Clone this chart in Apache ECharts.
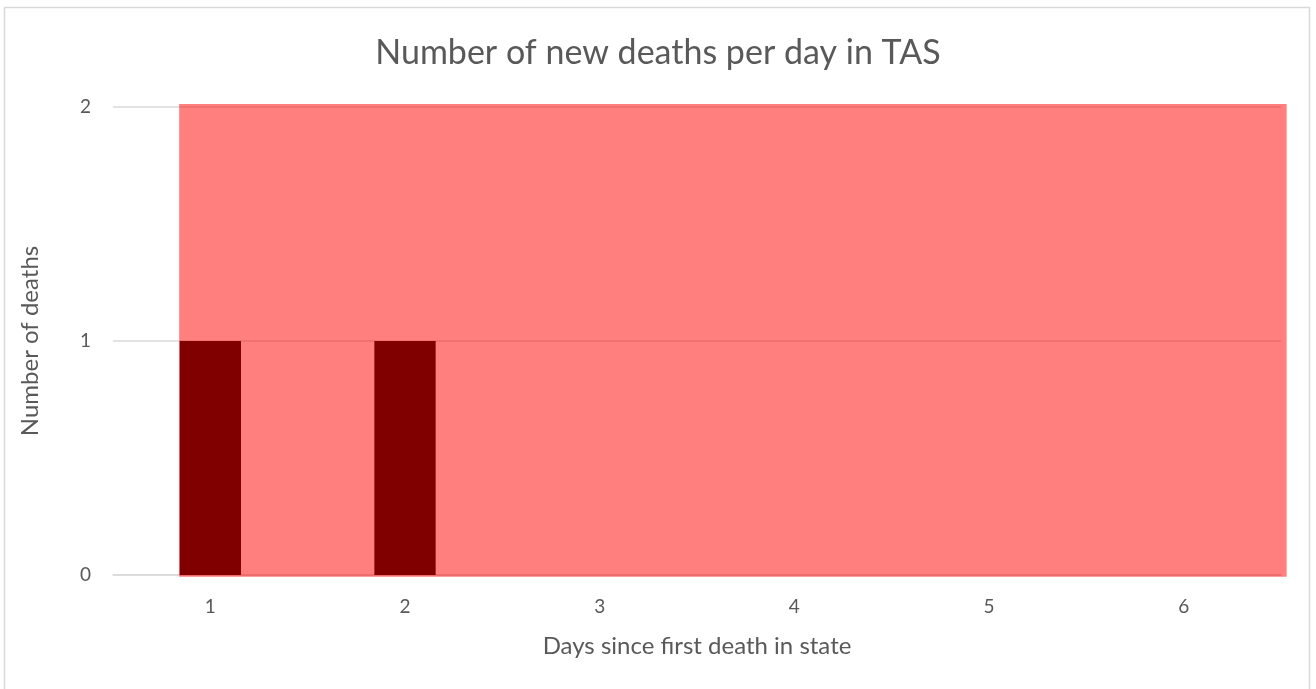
<!DOCTYPE html>
<html><head><meta charset="utf-8">
<script src="https://cdn.jsdelivr.net/npm/echarts@6/dist/echarts.min.js"></script>
<style>html,body{margin:0;padding:0;background:#fff}#c{width:1316px;height:689px}</style>
</head><body><div id="c"></div>
<script>
const categories = ['1','2','3','4','5','6'];
const newDeaths = [1, 1, 0, 0, 0, 0];
// shaded band, in category-index units (x) and deaths (y)
const bandX = [-0.16, 5.529];
const bandValue = [2.013, 2.013];
const yTicks = [0, 1, 2];

// plot geometry
const W = 1316, H = 689, L = 113, R = 35, T = 107, B = 114;
const catW = (W - L - R) / categories.length;
const unitH = (H - T - B) / (yTicks[yTicks.length-1] - yTicks[0]);

const chart = echarts.init(document.getElementById('c'));
const F = 'Lato, "Open Sans", sans-serif';
chart.setOption({
  animation: false,
  title: {text: 'Number of new deaths per day in TAS', left: 'center', top: 31,
    textStyle: {fontFamily: F, fontSize: 34, fontWeight: 'normal', color: '#595959'}},
  graphic: [{type: 'rect', shape: {x: 4.5, y: 7.5, width: 1305, height: 690},
    style: {fill: 'none', stroke: '#d9d9d9', lineWidth: 1.5}, silent: true}],
  grid: [{left: L, right: R, top: T, bottom: B},
         {left: 0, right: 0, top: 0, bottom: 0}],
  xAxis: [{
    type: 'category', data: categories, gridIndex: 0,
    axisLine: {lineStyle: {color: '#d9d9d9', width: 1.5}},
    axisTick: {show: false},
    axisLabel: {fontFamily: F, fontSize: 19, color: '#595959', margin: 22},
    name: 'Days since first death in state', nameLocation: 'middle', nameGap: 59,
    nameTextStyle: {fontFamily: F, fontSize: 24, color: '#595959'}
  }, {
    type: 'value', gridIndex: 1, show: false,
    min: -0.5 - L / catW, max: categories.length - 0.5 + R / catW
  }],
  yAxis: [{
    type: 'value', gridIndex: 0, min: yTicks[0], max: yTicks[yTicks.length-1], interval: 1,
    axisLine: {show: false}, axisTick: {show: false},
    splitLine: {lineStyle: {color: '#d9d9d9', width: 1.5}},
    axisLabel: {fontFamily: F, fontSize: 19, color: '#595959', margin: 22},
    name: 'Number of deaths', nameLocation: 'middle', nameGap: 71, nameRotate: 90,
    nameTextStyle: {fontFamily: F, fontSize: 24, color: '#595959'}
  }, {
    type: 'value', gridIndex: 1, show: false,
    min: yTicks[0] - B / unitH, max: yTicks[yTicks.length-1] + T / unitH
  }],
  series: [{
    type: 'line', xAxisIndex: 1, yAxisIndex: 1,
    data: bandX.map((x, i) => [x, bandValue[i]]),
    symbol: 'none', lineStyle: {width: 0},
    areaStyle: {color: 'rgba(255,0,0,0.5)', opacity: 1, origin: -0.008}, z: 1, silent: true
  }, {
    type: 'bar', data: newDeaths, barWidth: '31.5%', xAxisIndex: 0, yAxisIndex: 0,
    itemStyle: {color: '#800000'}, z: 3
  }]
});
</script></body></html>
